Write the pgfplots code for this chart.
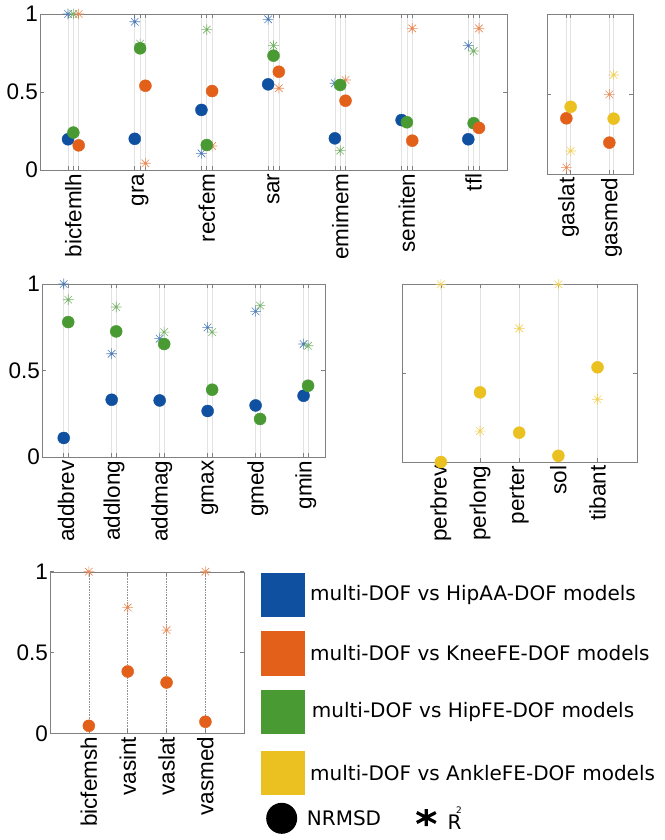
\documentclass[border=0pt]{standalone}
\usepackage{fontspec}
\setmainfont{Liberation Sans}
\newfontfamily\dejavu{DejaVu Sans}
\usepackage{pgfplots}
\pgfplotsset{compat=1.18}

\definecolor{cBlue}{HTML}{1050A0}
\definecolor{cOrange}{HTML}{E2601A}
\definecolor{cGreen}{HTML}{4A9A34}
\definecolor{cYellow}{HTML}{EBC021}
\definecolor{axgray}{HTML}{808080}
\definecolor{gridgray}{HTML}{E3E3E3}

% MATLAB-like asterisk: + and x together
\pgfdeclareplotmark{ast8}{%
  \pgfpathmoveto{\pgfqpoint{-\pgfplotmarksize}{0pt}}%
  \pgfpathlineto{\pgfqpoint{\pgfplotmarksize}{0pt}}%
  \pgfpathmoveto{\pgfqpoint{0pt}{-\pgfplotmarksize}}%
  \pgfpathlineto{\pgfqpoint{0pt}{\pgfplotmarksize}}%
  \pgfpathmoveto{\pgfqpoint{-0.707\pgfplotmarksize}{-0.707\pgfplotmarksize}}%
  \pgfpathlineto{\pgfqpoint{0.707\pgfplotmarksize}{0.707\pgfplotmarksize}}%
  \pgfpathmoveto{\pgfqpoint{-0.707\pgfplotmarksize}{0.707\pgfplotmarksize}}%
  \pgfpathlineto{\pgfqpoint{0.707\pgfplotmarksize}{-0.707\pgfplotmarksize}}%
  \pgfusepathqstroke}

\pgfplotsset{
  panel/.style={
    scale only axis, axis line style={axgray},
    ymin=0, ymax=1, ytick={0,0.5,1}, yticklabels={0,0.5,1},
    tick align=inside, major tick length=4pt,
    tick style={axgray, line width=0.6pt},
    xmajorgrids, grid style={gridgray, line width=0.6pt},
    ticklabel style={font=\fontsize{22.5}{26}\selectfont},
    yticklabel style={inner xsep=2pt},
    xticklabels={},
    extra x tick style={grid=none, major tick length=0pt,
      xticklabel style={rotate=90, anchor=east}},
  },
  dot/.style={only marks, mark=*, color=#1, mark size=6pt},
  st/.style={only marks, mark=ast8, mark size=5.3pt,
    mark options={draw=#1!75!white, line width=0.6pt}},
}

\begin{document}
\begin{tikzpicture}
\path[use as bounding box] (0,0) rectangle (664pt,-840pt);

% ---- panel 1 ----
\begin{axis}[panel, at={(40pt,-14pt)}, anchor=north west,
  width=467pt, height=156pt, xmin=0.5, xmax=7.5,
  xtick={0.92,1,1.08,1.92,2,2.08,2.92,3,3.08,3.92,4,4.08,4.92,5,5.08,5.92,6,6.08,6.92,7,7.08},
  extra x ticks={1,2,3,4,5,6,7},
  extra x tick labels={bicfemlh,gra,recfem,sar,emimem,semiten,tfl}]
\addplot[st=cBlue] coordinates {(0.92,1.0)(1.92,0.95)(2.92,0.107)(3.92,0.966)(4.92,0.556)(6.92,0.797)};
\addplot[st=cGreen] coordinates {(1,1.0)(2,0.81)(3,0.90)(4,0.797)(5,0.124)(7,0.763)};
\addplot[st=cOrange] coordinates {(1.08,1.0)(2.08,0.043)(3.08,0.154)(4.08,0.524)(5.08,0.577)(6.08,0.908)(7.08,0.908)};
\addplot[dot=cBlue] coordinates {(0.92,0.197)(1.92,0.20)(2.92,0.385)(3.92,0.549)(4.92,0.203)(5.92,0.32)(6.92,0.197)};
\addplot[dot=cGreen] coordinates {(1,0.24)(2,0.78)(3,0.16)(4,0.733)(5,0.545)(6,0.306)(7,0.30)};
\addplot[dot=cOrange] coordinates {(1.08,0.158)(2.08,0.54)(3.08,0.506)(4.08,0.63)(5.08,0.444)(6.08,0.188)(7.08,0.27)};
\end{axis}

% ---- panel 2 ----
\begin{axis}[panel, at={(547pt,-14pt)}, anchor=north west,
  width=86pt, height=160pt, xmin=0.5, xmax=2.5, yticklabels={},
  xtick={0.95,1.05,1.95,2.05},
  extra x ticks={1,2}, extra x tick labels={gaslat,gasmed}]
\addplot[st=cOrange] coordinates {(0.95,0.04)(1.95,0.498)};
\addplot[st=cYellow] coordinates {(1.05,0.144)(2.05,0.619)};
\addplot[dot=cOrange] coordinates {(0.95,0.348)(1.95,0.196)};
\addplot[dot=cYellow] coordinates {(1.05,0.42)(2.05,0.346)};
\end{axis}

% ---- panel 3 ----
\begin{axis}[panel, at={(42pt,-284pt)}, anchor=north west,
  width=283pt, height=173pt, xmin=0.5, xmax=6.4,
  xtick={0.953,1.047,1.953,2.047,2.953,3.047,3.953,4.047,4.953,5.047,5.953,6.047},
  extra x ticks={1,2,3,4,5,6},
  extra x tick labels={addbrev,addlong,addmag,gmax,gmed,gmin}]
\addplot[st=cBlue] coordinates {(0.953,1.0)(1.953,0.597)(2.953,0.684)(3.953,0.749)(4.953,0.842)(5.953,0.653)};
\addplot[st=cGreen] coordinates {(1.047,0.909)(2.047,0.867)(3.047,0.722)(4.047,0.722)(5.047,0.875)(6.047,0.643)};
\addplot[dot=cBlue] coordinates {(0.953,0.11)(1.953,0.331)(2.953,0.327)(3.953,0.266)(4.953,0.298)(5.953,0.354)};
\addplot[dot=cGreen] coordinates {(1.047,0.78)(2.047,0.726)(3.047,0.653)(4.047,0.389)(5.047,0.22)(6.047,0.412)};
\end{axis}

% ---- panel 4 ----
\begin{axis}[panel, at={(401.7pt,-284.3pt)}, anchor=north west,
  width=235pt, height=177.7pt, xmin=0, xmax=6, yticklabels={},
  xtick={1,2,3,4,5},
  extra x ticks={1,2,3,4,5},
  extra x tick labels={perbrev,perlong,perter,sol,tibant}]
\addplot[st=cYellow] coordinates {(1,1.0)(2,0.174)(3,0.752)(4,1.0)(5,0.353)};
\addplot[dot=cYellow] coordinates {(1,0.0)(2,0.392)(3,0.165)(4,0.035)(5,0.533)};
\end{axis}

% ---- panel 5 ----
\begin{axis}[panel, at={(50pt,-571.7pt)}, anchor=north west,
  width=194.3pt, height=161.7pt, xmin=0, xmax=5,
  grid style={densely dotted, gray!85, line width=0.5pt},
  xtick={1,2,3,4},
  extra x ticks={1,2,3,4},
  extra x tick labels={bicfemsh,vasint,vaslat,vasmed}]
\addplot[st=cOrange] coordinates {(1,1.0)(2,0.779)(3,0.639)(4,1.0)};
\addplot[dot=cOrange] coordinates {(1,0.047)(2,0.383)(3,0.315)(4,0.072)};
\end{axis}

% ---- legend ----
\begin{scope}[every node/.style={anchor=west, inner sep=0pt,
    font=\dejavu\fontsize{20}{24}\selectfont}]
\fill[cBlue]   (261pt,-572.7pt) rectangle (305.3pt,-617.3pt);
\fill[cOrange] (261pt,-631pt)   rectangle (305.3pt,-675.7pt);
\fill[cGreen]  (261pt,-690pt)   rectangle (305.3pt,-734.3pt);
\fill[cYellow] (261pt,-750.7pt) rectangle (305.3pt,-795pt);
\node at (310pt,-595pt)   {multi-DOF vs HipAA-DOF models};
\node at (310pt,-653.3pt) {multi-DOF vs KneeFE-DOF models};
\node at (311.7pt,-712pt) {multi-DOF vs HipFE-DOF models};
\node at (310pt,-772.8pt) {multi-DOF vs AnkleFE-DOF models};
\fill[black] (281.7pt,-818.3pt) circle (15.5pt);
\node at (306.7pt,-818pt) {NRMSD};
\draw[line width=3.2pt] (426.3pt,-809pt) -- (426.3pt,-826pt)
  (416.8pt,-812.5pt) -- (435.8pt,-822.5pt)
  (416.8pt,-822.5pt) -- (435.8pt,-812.5pt);
\node at (447.5pt,-818pt) {R\kern-5.5pt\raisebox{16.5pt}{\fontsize{9}{9}\selectfont 2}};
\end{scope}
\end{tikzpicture}
\end{document}
